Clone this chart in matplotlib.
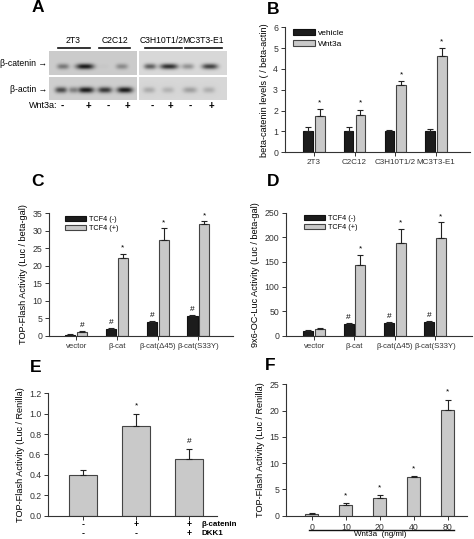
import numpy as np
import matplotlib
matplotlib.use("Agg")
import matplotlib.pyplot as plt
from matplotlib.patches import Rectangle

plt.rcParams['font.family'] = ['Liberation Sans', 'DejaVu Sans']

W, H = 474, 539
fig = plt.figure(figsize=(W / 100, H / 100), dpi=100)

# ---------------- data ----------------
# Panel A (western blot band intensities, 0..1)
blot_cells = ["2T3", "C2C12", "C3H10T1/2", "MC3T3-E1"]
wnt_marks = ["-", "+", "-", "+", "-", "+", "-", "+"]
cat_band_x = [63, 85, 104, 122, 150, 169, 188, 210]
cat_band_w = [6, 9, 5, 6, 6, 9, 6, 8]
cat_band_i = [0.45, 0.95, 0.03, 0.35, 0.6, 0.85, 0.35, 0.75]
act_band_x = [61, 73, 86, 105, 125, 149, 168, 190, 209]
act_band_w = [6, 4, 8, 7, 8, 6, 6, 7, 6]
act_band_i = [0.7, 0.4, 0.95, 0.8, 0.95, 0.22, 0.18, 0.28, 0.2]

# Panel B
b_cats = ["2T3", "C2C12", "C3H10T1/2", "MC3T3-E1"]
b_vehicle = [1.0, 1.0, 1.0, 1.0]
b_vehicle_err = [0.2, 0.2, 0.08, 0.12]
b_wnt = [1.75, 1.78, 3.22, 4.6]
b_wnt_err = [0.32, 0.27, 0.18, 0.4]

# Panel C
c_cats = ["vector", "β-cat", "β-cat(Δ45)", "β-cat(S33Y)"]
c_minus = [0.3, 1.8, 4.0, 5.5]
c_minus_err = [0.05, 0.3, 0.3, 0.5]
c_plus = [1.0, 22.2, 27.3, 32.0]
c_plus_err = [0.3, 1.3, 3.5, 0.7]
c_minus_sym = ["", "#", "#", "#"]
c_plus_sym = ["#", "*", "*", "*"]

# Panel D
d_cats = ["vector", "β-cat", "β-cat(Δ45)", "β-cat(S33Y)"]
d_minus = [10, 23, 25, 28]
d_minus_err = [2, 2, 2, 2]
d_plus = [14, 143, 189, 199]
d_plus_err = [2, 22, 28, 32]
d_minus_sym = ["", "#", "#", "#"]
d_plus_sym = ["", "*", "*", "*"]

# Panel E
e_vals = [0.40, 0.88, 0.55]
e_err = [0.045, 0.12, 0.10]
e_sym = ["", "*", "#"]
e_row1 = ["-", "+", "+"]
e_row2 = ["-", "-", "+"]

# Panel F
f_doses = ["0", "10", "20", "40", "80"]
f_vals = [0.35, 2.0, 3.3, 7.3, 20.1]
f_err = [0.1, 0.4, 0.6, 0.2, 2.0]
f_sym = ["", "*", "*", "*", "*"]

BLACK = "#1c1c1c"
GRAY = "#c9c9c9"
EDGE = "#444444"
TFS = 6.3


def ax_px(l, r, b, t):
    return fig.add_axes([l / W, 1 - b / H, (r - l) / W, (b - t) / H])


def style(ax):
    for s in ["top", "right"]:
        ax.spines[s].set_visible(False)
    for s in ["left", "bottom"]:
        ax.spines[s].set_linewidth(0.8)
        ax.spines[s].set_color("#333333")
    ax.tick_params(axis="both", labelsize=TFS, length=3, width=0.7,
                   colors="#333333", pad=2)


def bars(ax, x, vals, errs, color, width, syms=None, symoff=2):
    ax.bar(x, vals, width=width, color=color, edgecolor=EDGE if color != BLACK else "#111111",
           linewidth=0.8, zorder=2)
    ax.errorbar(x, vals, yerr=[np.zeros(len(vals)), errs], fmt="none",
                ecolor="#222222", elinewidth=0.8, capsize=2, capthick=0.8, zorder=3)
    if syms:
        for xi, v, e, s in zip(x, vals, errs, syms):
            if s:
                ax.annotate(s, (xi, v + e), xytext=(0, symoff), textcoords="offset points",
                            ha="center", va="bottom", fontsize=6)


# ---------------- overlay for panel A and letters ----------------
ov = fig.add_axes([0, 0, 1, 1])
ov.set_xlim(0, W)
ov.set_ylim(H, 0)
ov.axis("off")


def blot(x0, x1, y0, y1, bxs, bws, bis, yc, hh, bg):
    nx, ny = int((x1 - x0) * 4), int((y1 - y0) * 4)
    xs = np.linspace(x0, x1, nx)
    ys = np.linspace(y0, y1, ny)
    X, Y = np.meshgrid(xs, ys)
    img = np.full(X.shape, bg)
    dark = np.zeros(X.shape)
    for bx, bw, bi in zip(bxs, bws, bis):
        if x0 <= bx <= x1:
            dark += bi * np.exp(-np.abs((X - bx) / bw) ** 3) * np.exp(-((Y - yc) / hh) ** 2)
    dark = np.clip(dark, 0, 1)
    img = img * (1 - 0.92 * dark)
    ov.imshow(img, cmap="gray", vmin=0, vmax=1, extent=(x0, x1, y1, y0),
              aspect="auto", interpolation="bilinear", zorder=1)


blot(49, 137, 51, 75, cat_band_x, cat_band_w, cat_band_i, 66.5, 2.8, 0.80)
blot(139, 227, 51, 75, cat_band_x, cat_band_w, cat_band_i, 66.5, 2.8, 0.85)
blot(49, 137, 77, 100, act_band_x, act_band_w, act_band_i, 90, 3.0, 0.81)
blot(139, 227, 77, 100, act_band_x, act_band_w, act_band_i, 90, 3.0, 0.84)

label_x = [73, 115, 162, 203]
ul = [(58, 90), (99, 130), (145, 182), (185, 222)]
for name, lx, (u0, u1) in zip(blot_cells, label_x, ul):
    ov.text(lx, 45, name, ha="center", va="bottom", fontsize=6.2)
    ov.plot([u0, u1], [48, 48], color="#111111", lw=1.2)
ov.text(47, 63, "β-catenin →", ha="right", va="center", fontsize=6.2)
ov.text(47, 90, "β-actin →", ha="right", va="center", fontsize=6.2)
ov.text(57, 106, "Wnt3a:", ha="right", va="center", fontsize=6.5)
mark_x = [62, 88, 108, 127, 152, 170, 190, 211]
for mx, m in zip(mark_x, wnt_marks):
    ov.text(mx, 106, m, ha="center", va="center", fontsize=7, fontweight="bold")

for letter, (lx, ly) in zip("ABCDEF", [(38, 8), (273, 9), (38, 182), (273, 181), (36, 367), (270, 366)]):
    ov.text(lx, ly, letter, ha="center", va="center", fontsize=12.5, fontweight="bold")

# ---------------- Panel B ----------------
axB = ax_px(285, 470, 152.3, 27.3)
style(axB)
xb = np.arange(len(b_cats))
bars(axB, xb - 0.145, b_vehicle, b_vehicle_err, BLACK, 0.235)
bars(axB, xb + 0.145, b_wnt, b_wnt_err, GRAY, 0.235, ["*"] * 4)
axB.set_xlim(-0.71, 3.84)
axB.set_ylim(0, 6)
axB.set_yticks(range(0, 7))
axB.set_xticks(xb)
axB.set_xticklabels(b_cats, fontsize=5.8)
axB.set_ylabel("beta-catenin levels ( / beta-actin)", fontsize=6.6, labelpad=3)
hB = [Rectangle((0, 0), 1, 1, fc=BLACK, ec="#111111", lw=0.8),
      Rectangle((0, 0), 1, 1, fc=GRAY, ec=EDGE, lw=0.8)]
axB.legend(hB, ["vehicle", "Wnt3a"], loc="upper left", bbox_to_anchor=(0.02, 1.02),
           frameon=False, fontsize=6, handlelength=2.6, handleheight=0.8,
           borderpad=0, labelspacing=0.3, handletextpad=0.4)

# ---------------- Panel C ----------------
axC = ax_px(49, 233, 335.7, 213.3)
style(axC)
xc = np.arange(len(c_cats))
bars(axC, xc - 0.145, c_minus, c_minus_err, BLACK, 0.25, c_minus_sym, 1.5)
bars(axC, xc + 0.145, c_plus, c_plus_err, GRAY, 0.25, c_plus_sym, 1.5)
axC.set_xlim(-0.67, 3.85)
axC.set_ylim(0, 35)
axC.set_yticks(range(0, 36, 5))
axC.set_xticks(xc)
axC.set_xticklabels(c_cats, fontsize=5.6)
axC.set_ylabel("TOP-Flash Activity (Luc / beta-gal)", fontsize=6.6, labelpad=3)
axC.legend(hB, ["TCF4 (-)", "TCF4 (+)"], loc="upper left", bbox_to_anchor=(0.07, 1.01),
           frameon=False, fontsize=5.2, handlelength=2.8, handleheight=0.7,
           borderpad=0, labelspacing=0.25, handletextpad=0.4)

# ---------------- Panel D ----------------
axD = ax_px(286, 472, 335.7, 212.7)
style(axD)
xd = np.arange(len(d_cats))
bars(axD, xd - 0.145, d_minus, d_minus_err, BLACK, 0.25, d_minus_sym, 1.5)
bars(axD, xd + 0.145, d_plus, d_plus_err, GRAY, 0.25, d_plus_sym, 1.5)
axD.set_xlim(-0.7, 3.92)
axD.set_ylim(0, 250)
axD.set_yticks(range(0, 251, 50))
axD.set_xticks(xd)
axD.set_xticklabels(d_cats, fontsize=5.6)
axD.set_ylabel("9x6-OC-Luc Activity (Luc / beta-gal)", fontsize=6.6, labelpad=3)
axD.legend(hB, ["TCF4 (-)", "TCF4 (+)"], loc="upper left", bbox_to_anchor=(0.08, 1.01),
           frameon=False, fontsize=5.2, handlelength=2.8, handleheight=0.7,
           borderpad=0, labelspacing=0.25, handletextpad=0.4)

# ---------------- Panel E ----------------
axE = ax_px(48.3, 216.7, 515.5, 393.3)
style(axE)
xe = np.arange(len(e_vals))
bars(axE, xe, e_vals, e_err, GRAY, 0.515, e_sym, 3)
axE.set_xlim(-0.655, 2.52)
axE.set_ylim(0, 1.2)
axE.set_yticks(np.arange(0, 1.21, 0.2))
axE.set_yticklabels([f"{v:.1f}" for v in np.arange(0, 1.21, 0.2)])
axE.set_xticks(xe)
axE.set_xticklabels([])
axE.set_ylabel("TOP-Flash Activity (Luc / Renilla)", fontsize=6.6, labelpad=3)
for xi, r1, r2 in zip(xe, e_row1, e_row2):
    axE.annotate(r1, (xi, 0), xytext=(0, -6.3), textcoords="offset points",
                 ha="center", va="center", fontsize=6.3, fontweight="bold",
                 annotation_clip=False)
    axE.annotate(r2, (xi, 0), xytext=(0, -13.2), textcoords="offset points",
                 ha="center", va="center", fontsize=6.3, fontweight="bold",
                 annotation_clip=False)
axE.annotate("β-catenin", (xe[-1], 0), xytext=(9, -6.3), textcoords="offset points",
             ha="left", va="center", fontsize=5.8, fontweight="bold", annotation_clip=False)
axE.annotate("DKK1", (xe[-1], 0), xytext=(9, -13.2), textcoords="offset points",
             ha="left", va="center", fontsize=5.8, fontweight="bold", annotation_clip=False)

# ---------------- Panel F ----------------
axF = ax_px(286, 467, 515.7, 384.3)
style(axF)
xf = np.arange(len(f_doses))
bars(axF, xf, f_vals, f_err, GRAY, 0.38, f_sym, 3)
axF.set_xlim(-0.76, 4.56)
axF.set_ylim(0, 25)
axF.set_yticks(range(0, 26, 5))
axF.set_xticks(xf)
axF.set_xticklabels(f_doses, fontsize=6.3)
axF.set_ylabel("TOP-Flash Activity (Luc / Renilla)", fontsize=6.6, labelpad=3)
ov.plot([309, 454], [529.5, 529.5], color="#111111", lw=1.0)
ov.text(380, 531, "Wnt3a  (ng/ml)", ha="center", va="top", fontsize=5.8)

fig.savefig("out.png", dpi=100)
